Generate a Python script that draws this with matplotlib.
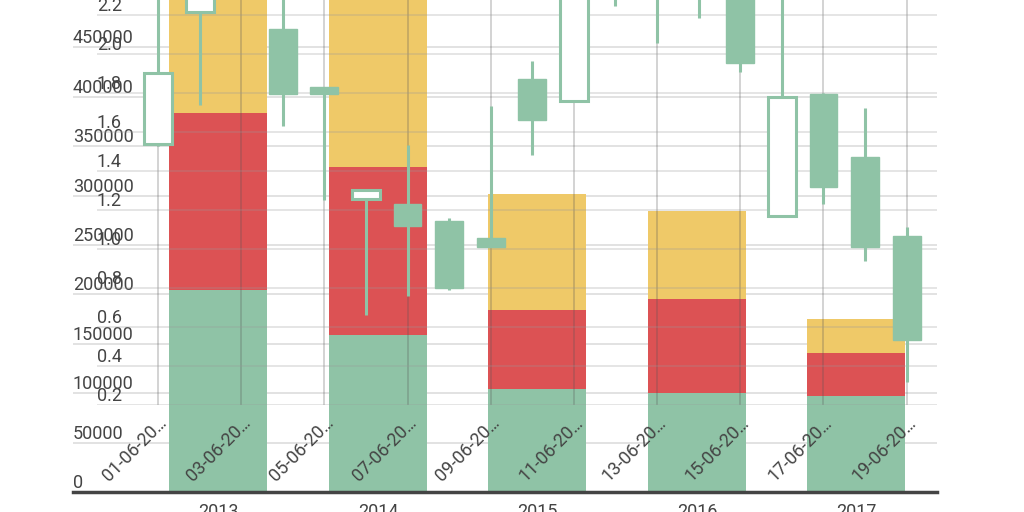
import matplotlib.pyplot as plt
import numpy as np

plt.rcParams['font.family'] = ['Roboto', 'DejaVu Sans']

# stacked bars per year
years = ['2013', '2014', '2015', '2016', '2017']
green_vals = [204000, 159000, 104000, 100000, 97000]
red_vals = [180000, 170000, 80000, 95000, 44000]
yellow_vals = [140000, 190000, 118000, 89000, 34000]

# daily candles
dates = ['%02d-06-20…' % d for d in range(1, 20)]
opens = [1.538, 2.215, 2.70, 2.128, 1.831, 1.256, 1.231, 1.144, 1.056, 1.872,
         1.759, 2.60, 2.50, 2.45, 2.35, 1.169, 1.795, 1.472, 1.067]
closes = [1.903, 2.45, 2.50, 1.795, 1.795, 1.303, 1.118, 0.800, 1.010, 1.662,
          2.40, 2.35, 2.40, 2.35, 1.954, 1.779, 1.318, 1.010, 0.533]
highs = [2.50, 2.60, 2.90, 2.40, 1.831, 1.303, 1.533, 1.159, 1.733, 1.964,
         2.60, 2.70, 2.60, 2.55, 2.40, 2.40, 1.80, 1.723, 1.113]
lows = [1.530, 1.738, 2.35, 1.631, 1.251, 0.662, 0.759, 0.790, 1.010, 1.482,
        1.759, 2.246, 2.056, 2.185, 1.908, 1.169, 1.231, 0.938, 0.318]

GREEN = '#8fc3a6'
RED = '#dc5254'
YELLOW = '#efc968'
TXT = '#444444'

fig = plt.figure(figsize=(10.24, 5.12), dpi=100)

# bar axes
ax = fig.add_axes([73 / 1024, 20 / 512, (937 - 73) / 1024, 492 / 512])
x = np.arange(len(years))
w = 0.614
ax.bar(x, green_vals, w, color=GREEN, zorder=2)
ax.bar(x, red_vals, w, bottom=green_vals, color=RED, zorder=2)
ax.bar(x, yellow_vals, w, bottom=np.add(green_vals, red_vals), color=YELLOW, zorder=2)
ax.set_xlim(-0.912, 4.505)
ax.set_ylim(0, 498000)
ax.set_yticks(np.arange(0, 450001, 50000))
ax.set_yticklabels([str(v) for v in range(0, 450001, 50000)], ha='left', va='bottom')
ax.tick_params(axis='y', length=0, pad=0, labelsize=13, labelcolor=TXT)
ax.set_xticks(x)
ax.set_xticklabels(years)
ax.tick_params(axis='x', length=0, pad=8, labelsize=13, labelcolor=TXT)
ax.grid(axis='y', color='#dddddd', lw=1.2, zorder=1)
for s in ['top', 'right', 'left']:
    ax.spines[s].set_visible(False)
ax.spines['bottom'].set_color('#444444')
ax.spines['bottom'].set_linewidth(2.5)

# candlestick axes
cx = fig.add_axes([97 / 1024, 107 / 512, (937 - 97) / 1024, 405 / 512])
cx.patch.set_alpha(0)
idx = np.arange(len(dates))
cw = 0.67
for i in idx:
    o, c = opens[i], closes[i]
    cx.vlines(i, lows[i], highs[i], color=GREEN, lw=2.2, zorder=3)
    if c >= o:
        cx.bar(i, c - o, cw, bottom=o, facecolor='white', edgecolor=GREEN, lw=2.2, zorder=4)
    else:
        cx.bar(i, o - c, cw, bottom=c, facecolor=GREEN, edgecolor=GREEN, lw=1, zorder=4)
cx.set_xlim(-1.466, 18.73)
cx.set_ylim(0.2, 2.277)
cx.set_yticks(np.arange(0.2, 2.21, 0.2))
cx.set_yticklabels(['%.1f' % v for v in np.arange(0.2, 2.21, 0.2)], ha='left', va='bottom')
cx.tick_params(axis='y', length=0, pad=0, labelsize=13, labelcolor=TXT)
cx.set_xticks(idx[::2])
cx.set_xticklabels(dates[::2], rotation=45, ha='right', rotation_mode='anchor')
cx.tick_params(axis='x', length=0, pad=6, labelsize=13, labelcolor=TXT)
cx.grid(axis='y', color='#999999', alpha=0.3, lw=1.2, zorder=1)
cx.grid(axis='x', color='#555555', alpha=0.3, lw=1.2, zorder=1)
for s in cx.spines.values():
    s.set_visible(False)

fig.savefig('out.png', dpi=100)
